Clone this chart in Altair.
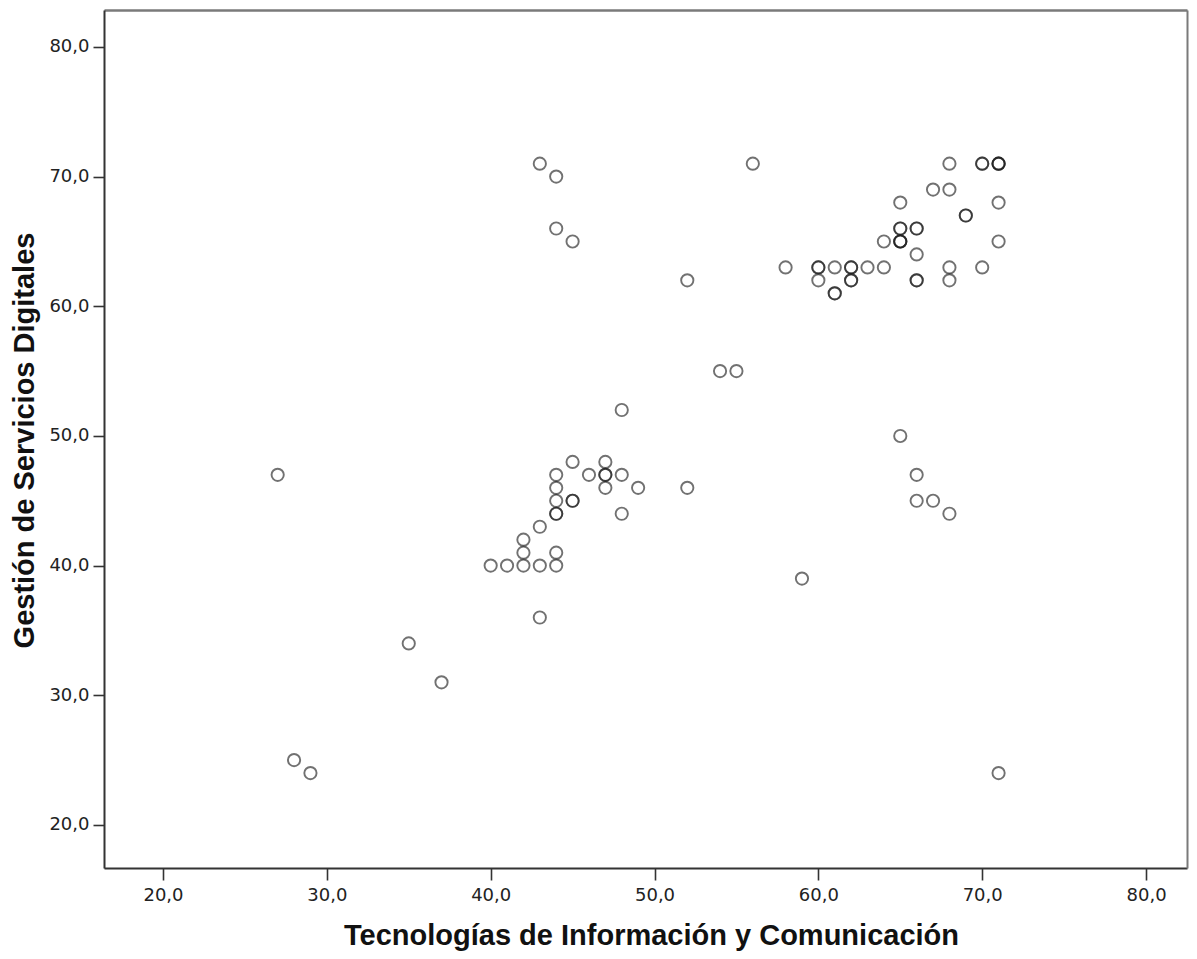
import altair as alt
import pandas as pd

# Tecnologías de Información y Comunicación (x) vs Gestión de Servicios Digitales (y)
tic = [27, 28, 29, 35, 37,
       40, 41, 42, 43, 44, 42, 44, 42, 43, 43,
       44, 44, 44, 44, 44, 45, 45, 45, 46, 47, 47, 47, 47, 48, 48, 48, 49, 52,
       43, 44, 44, 45, 52, 54, 55, 56, 58, 59,
       60, 60, 60, 61, 61, 61, 62, 62, 62, 62, 63, 64, 64,
       65, 65, 65, 65, 65, 65, 66, 66, 66, 66, 66, 67, 68, 68, 68, 68,
       69, 69, 70, 70, 70, 71, 71, 71, 71, 71, 71,
       65, 66, 66, 67, 68]
gsd = [47, 25, 24, 34, 31,
       40, 40, 40, 40, 40, 41, 41, 42, 43, 36,
       44, 44, 45, 46, 47, 45, 45, 48, 47, 48, 47, 47, 46, 47, 44, 52, 46, 46,
       71, 70, 66, 65, 62, 55, 55, 71, 63, 39,
       63, 63, 62, 63, 61, 61, 63, 63, 62, 62, 63, 65, 63,
       68, 66, 66, 65, 65, 65, 66, 66, 64, 62, 62, 69, 71, 69, 63, 62,
       67, 67, 71, 71, 63, 71, 71, 71, 68, 65, 24,
       50, 47, 45, 45, 44]

ticks = [20, 30, 40, 50, 60, 70, 80]
x_title = "Tecnologías de Información y Comunicación"
y_title = "Gestión de Servicios Digitales"

df = pd.DataFrame({"tic": tic, "gsd": gsd})

label_expr = "replace(format(datum.value, '.1f'), '.', ',')"
x_scale = alt.Scale(domain=[16.4, 82.5], nice=False, zero=False)
y_scale = alt.Scale(domain=[16.68, 82.85], nice=False, zero=False)

points = alt.Chart(df).mark_point(
    shape="circle", filled=False, size=150, stroke="#1a1a1a",
    strokeWidth=1.9, strokeOpacity=0.88
).encode(
    x=alt.X("tic:Q", scale=x_scale,
            axis=alt.Axis(title=x_title, values=ticks, labelExpr=label_expr,
                          grid=False, tickSize=12, tickWidth=1.6, tickColor="#333",
                          domainColor="#333", domainWidth=2,
                          labelFont="DejaVu Sans", labelFontSize=18, labelColor="#222",
                          labelPadding=6,
                          titleFont="Liberation Sans", titleFontSize=29, titleFontWeight="bold",
                          titleColor="#111", titleX=547, titleY=76, titleBaseline="alphabetic")),
    y=alt.Y("gsd:Q", scale=y_scale,
            axis=alt.Axis(title=y_title, values=ticks, labelExpr=label_expr,
                          grid=False, tickSize=11, tickWidth=1.6, tickColor="#333",
                          domainColor="#333", domainWidth=2,
                          labelFont="DejaVu Sans", labelFontSize=18, labelColor="#222",
                          labelPadding=4,
                          titleFont="Liberation Sans", titleFontSize=29, titleFontWeight="bold",
                          titleColor="#111", titleX=-80, titleY=430, titleBaseline="middle")),
)

# frame on top and right edges (axes without ticks or labels)
frame = alt.Chart(df).mark_point(opacity=0).encode(
    x=alt.X("tic:Q", scale=x_scale,
            axis=alt.Axis(orient="top", title=None, labels=False, ticks=False, grid=False,
                          domainColor="#7a7a7a", domainWidth=2.5)),
    y=alt.Y("gsd:Q", scale=y_scale,
            axis=alt.Axis(orient="right", title=None, labels=False, ticks=False, grid=False,
                          domainColor="#7a7a7a", domainWidth=2)),
)

chart = alt.layer(frame, points).resolve_axis(
    x="independent", y="independent"
).properties(
    width=1083, height=858,
    autosize=alt.AutoSizeParams(type="none"),
    padding={"left": 96, "top": 2, "right": 2, "bottom": 83},
).configure_view(
    fill="#f0f0f0", stroke="#7a7a7a", strokeWidth=2
).configure(background="white")

chart.save("out.html", embed_options={"renderer": "svg", "actions": False})
